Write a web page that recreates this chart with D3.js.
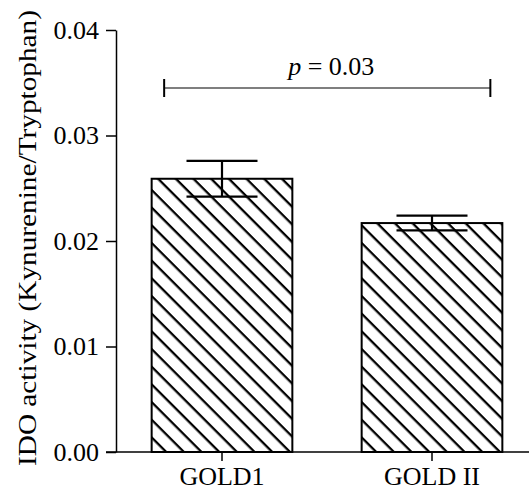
<!DOCTYPE html>
<html lang="en">

<head>
  <meta charset="UTF-8">
  <title>IDO activity</title>
  <script src="https://d3js.org/d3.v7.min.js"></script>
  <style>
    body { margin: 0; background: #fff; }
    svg text { font-family: "Liberation Serif", "DejaVu Serif", serif; fill: #000; }
  </style>
</head>

<body>
  <div id="root"></div>
  <script>
    const categories = ['GOLD1', 'GOLD II'];
    const means = [0.0259, 0.0217];
    const sems = [0.0017, 0.0007];
    const yTicks = [0, 0.01, 0.02, 0.03, 0.04];
    const pLabel = '0.03';

    const W = 529, H = 500;
    const fs = 26;

    const svg = d3.select('#root').append('svg').attr('width', W).attr('height', H);
    const defs = svg.append('defs');

    const y = d3.scaleLinear().domain([0, 0.04]).range([452, 30]);
    const x = d3.scaleBand().domain(categories).range([117, 537]).paddingInner(0.33).paddingOuter(0.165);
    const bw = x.bandwidth();

    const data = categories.map((c, i) => ({ cat: c, mean: means[i], sem: sems[i], i }));

    // hatch pattern per bar, anchored at bottom-left corner
    data.forEach(d => {
      const p = defs.append('pattern')
        .attr('id', 'hatch' + d.i)
        .attr('patternUnits', 'userSpaceOnUse')
        .attr('width', 12.5).attr('height', 12.5)
        .attr('patternTransform', `translate(${x(d.cat) - 1.5},${y(0)}) rotate(45)`);
      p.append('rect').attr('width', 12.5).attr('height', 12.5).attr('fill', '#fff');
      p.append('line').attr('x1', -2).attr('x2', 15).attr('y1', 0).attr('y2', 0)
        .attr('stroke', '#000').attr('stroke-width', 4.6);
    });

    // bars
    svg.append('g').selectAll('rect').data(data).enter()
      .append('rect')
      .attr('x', d => x(d.cat))
      .attr('y', d => y(d.mean))
      .attr('width', bw)
      .attr('height', d => y(0) - y(d.mean))
      .attr('fill', d => `url(#hatch${d.i})`)
      .attr('stroke', '#000')
      .attr('stroke-width', 2);

    // error bars
    const capW = 71;
    const eb = svg.append('g').attr('stroke', '#000').attr('stroke-width', 2.2);
    data.forEach(d => {
      const cx = x(d.cat) + bw / 2;
      eb.append('line').attr('x1', cx).attr('x2', cx).attr('y1', y(d.mean + d.sem)).attr('y2', y(d.mean - d.sem));
      eb.append('line').attr('x1', cx - capW / 2).attr('x2', cx + capW / 2).attr('y1', y(d.mean + d.sem)).attr('y2', y(d.mean + d.sem));
      eb.append('line').attr('x1', cx - capW / 2).attr('x2', cx + capW / 2).attr('y1', y(d.mean - d.sem)).attr('y2', y(d.mean - d.sem));
    });

    // y axis
    const yAxis = svg.append('g').attr('transform', 'translate(116,0)')
      .call(d3.axisLeft(y).tickValues(yTicks).tickFormat(d3.format('.2f')).tickSize(10).tickPadding(7).tickSizeOuter(0));
    yAxis.attr('font-family', null);
    yAxis.select('.domain').attr('stroke-width', 1.5);
    yAxis.selectAll('.tick line').attr('stroke-width', 1.5);
    yAxis.selectAll('text').style('font-size', fs + 'px');

    // x axis
    const xAxis = svg.append('g').attr('transform', `translate(0,${y(0)})`)
      .call(d3.axisBottom(x).tickSize(9).tickPadding(6).tickSizeOuter(0));
    xAxis.attr('font-family', null);
    xAxis.select('.domain').attr('d', `M106,0H529`).attr('stroke-width', 1.5);
    xAxis.selectAll('.tick line').attr('stroke-width', 1.5);
    xAxis.selectAll('text').style('font-size', fs + 'px');

    // y label
    svg.append('text')
      .attr('transform', 'translate(36,238) rotate(-90)')
      .attr('text-anchor', 'middle')
      .attr('textLength', 456)
      .attr('lengthAdjust', 'spacingAndGlyphs')
      .style('font-size', fs + 'px')
      .text('IDO activity (Kynurenine/Tryptophan)');

    // significance bracket
    const sx1 = x(categories[0]) + 12.5;
    const sx2 = x(categories[1]) + bw - 12;
    const sy = 88;
    const sig = svg.append('g').attr('stroke', '#000');
    sig.append('line').attr('x1', sx1).attr('x2', sx2).attr('y1', sy).attr('y2', sy).attr('stroke-width', 1.2);
    sig.append('line').attr('x1', sx1).attr('x2', sx1).attr('y1', sy - 9).attr('y2', sy + 9).attr('stroke-width', 2);
    sig.append('line').attr('x1', sx2).attr('x2', sx2).attr('y1', sy - 9).attr('y2', sy + 9).attr('stroke-width', 2);

    const pt = svg.append('text')
      .attr('x', (sx1 + sx2) / 2 + 4)
      .attr('y', 75)
      .attr('text-anchor', 'middle')
      .style('font-size', fs + 'px');
    pt.append('tspan').style('font-style', 'italic').text('p');
    pt.append('tspan').text(' = ' + pLabel);
  </script>
</body>

</html>
